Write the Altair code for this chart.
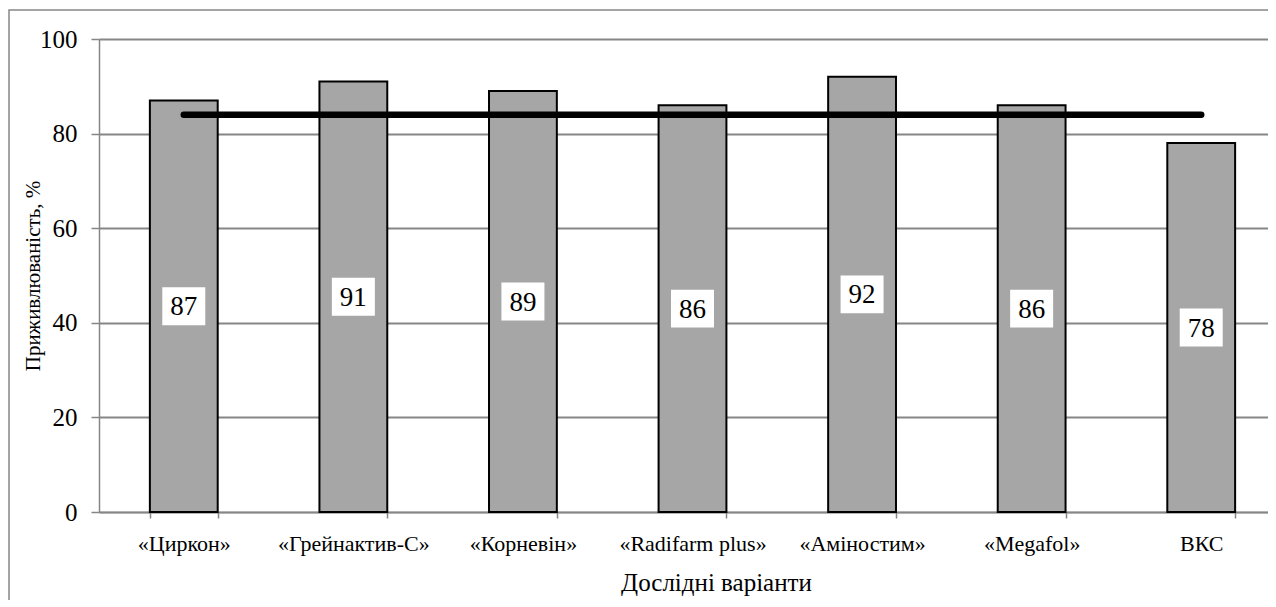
import altair as alt
import pandas as pd

categories = ["«Циркон»", "«Грейнактив-С»", "«Корневін»", "«Radifarm plus»",
              "«Аміностим»", "«Megafol»", "ВКС"]
values = [87, 91, 89, 86, 92, 86, 78]
reference_level = [84, 84, 84, 84, 84, 84, 84]
y_ticks = [0, 20, 40, 60, 80, 100]

df = pd.DataFrame({"cat": categories, "val": values, "ref": reference_level})

FONT = "Liberation Serif"
GRAY = "#868686"

x_enc = alt.X("cat:N", sort=categories,
              scale=alt.Scale(range=[0, 1187], paddingInner=0.6, paddingOuter=0.3),
              axis=alt.Axis(title="Дослідні варіанти", labelAngle=0, labelFontSize=22,
                            labelFont=FONT, labelColor="black", labelPadding=15,
                            labelFontWeight="normal",
                            tickBand="extent", tickColor=GRAY, tickSize=6, tickWidth=1.5,
                            domainColor=GRAY, domainWidth=1.5, grid=False,
                            titleFont=FONT, titleFontSize=25, titleFontWeight="normal",
                            titleColor="black", titleX=617, titleY=70,
                            titleBaseline="middle"))

y_enc = alt.Y("val:Q", scale=alt.Scale(domain=[0, 100]),
              axis=alt.Axis(title="Приживлюваність, %", values=y_ticks, labelFontSize=25,
                            labelFont=FONT, labelColor="black", labelPadding=14,
                            labelFontWeight="normal",
                            tickColor=GRAY, tickSize=8, tickWidth=1.5,
                            domainColor=GRAY, domainWidth=1.5,
                            grid=True, gridColor=GRAY, gridWidth=1.8,
                            titleFont=FONT, titleFontSize=21, titleFontWeight="normal",
                            titleColor="black", titleX=-66, titleY=236.5,
                            titleBaseline="middle", titleAngle=-90))

base = alt.Chart(df)

bars = base.mark_bar(fill="#a6a6a6", stroke="black", strokeWidth=2).encode(
    x=x_enc, y=y_enc)

line = base.mark_line(color="black", strokeWidth=6.5, strokeCap="round").encode(
    x=alt.X("cat:N", sort=categories), y=alt.Y("ref:Q"))

half = base.transform_calculate(half="datum.val / 2")

boxes = half.mark_point(shape="M-1,-0.88L1,-0.88L1,0.88L-1,0.88Z", filled=True,
                        fill="white", opacity=1, size=1849, strokeWidth=0).encode(
    x=alt.X("cat:N", sort=categories), y=alt.Y("half:Q"))

labels = half.mark_text(font=FONT, fontSize=27, color="black", baseline="middle",
                        align="center", dy=1).encode(
    x=alt.X("cat:N", sort=categories), y=alt.Y("half:Q"), text=alt.Text("val:Q"))

border = alt.Chart(pd.DataFrame({"a": [0]})).mark_rect(
    fill=None, stroke=GRAY, strokeWidth=1.5).encode(
    x=alt.value(-90), x2=alt.value(1250), y=alt.value(-29), y2=alt.value(640))

chart = alt.layer(border, bars, line, boxes, labels).properties(
    width=1169, height=473,
    autosize=alt.AutoSizeParams(type="none"),
    padding={"left": 91, "top": 31, "right": 0, "bottom": 88},
    background="white",
).configure_view(stroke=None)

chart.save("out.html", embed_options={"renderer": "svg", "actions": False})
